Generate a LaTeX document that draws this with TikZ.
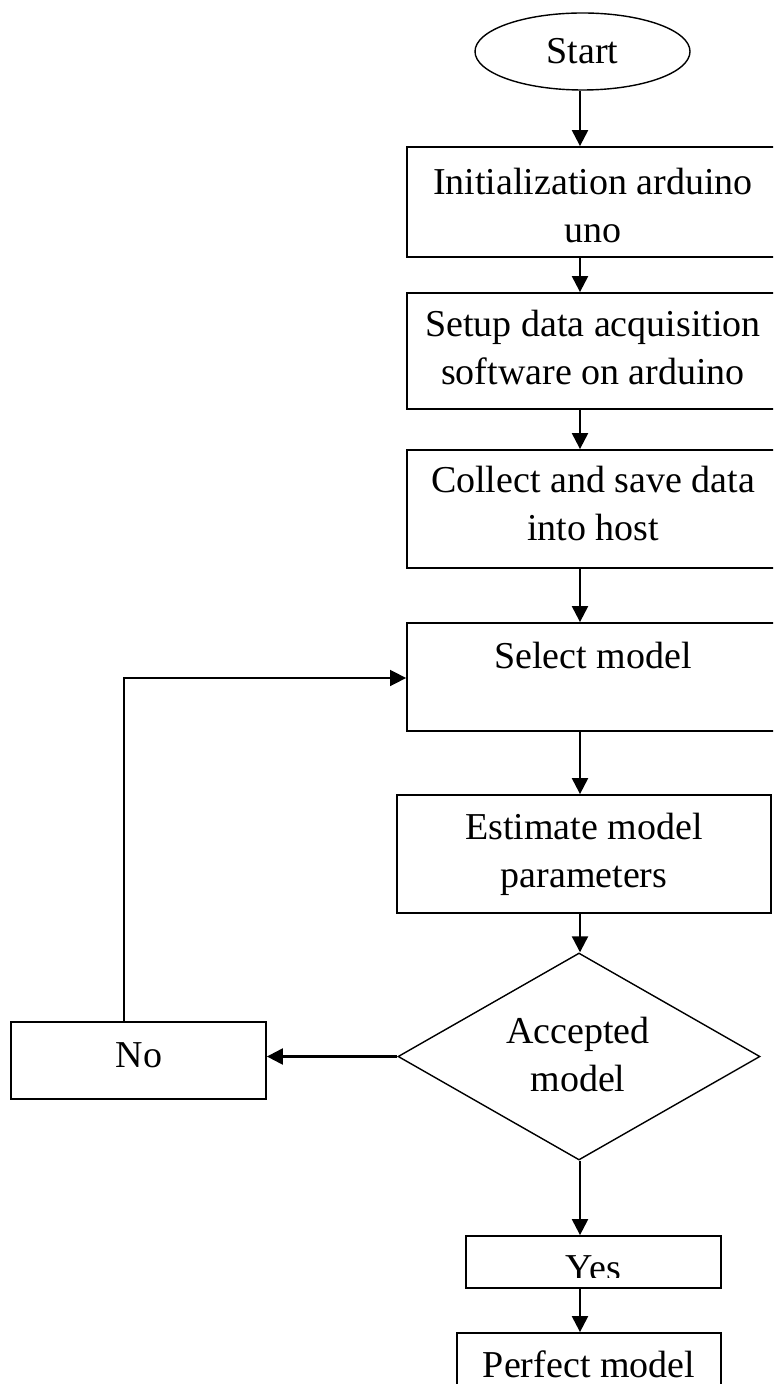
\documentclass[tikz,border=0pt]{standalone}
\usepackage{fontspec}
\setmainfont{Liberation Serif}
\usetikzlibrary{shapes.geometric,arrows.meta}
% one drawing unit = 0.5pt
\newcommand\upx{0.5pt}

\begin{document}
\begin{tikzpicture}[x=0.5pt,y=-0.5pt,
  box/.style={draw, rectangle, line width=0.9pt, inner sep=0pt},
  term/.style={draw, ellipse, line width=0.7pt, inner sep=0pt},
  decision/.style={draw, diamond, line width=0.7pt, inner sep=0pt},
  lbl/.style={anchor=base, inner sep=0pt, font=\fontsize{19}{24}\selectfont},
  arr/.style={-{Triangle[width=8pt,length=8pt]}, line width=1.1pt},
  back/.style={-{Triangle[width=8pt,length=8pt]}, line width=0.8pt}]
\clip (0,0) rectangle (773,1384);

% main column of steps
\node[term, minimum width=215*\upx, minimum height=77*\upx] (start) at (582.5,51.5) {};
\node[lbl] (tstart) at (582.5,64) {Start};

\node[box, minimum width=372*\upx, minimum height=110*\upx] (b1) at (593,202) {};
\node[lbl] (t1) at (593,195) {\begin{tabular}[t]{@{}c@{}}Initialization arduino\\uno\end{tabular}};

\node[box, minimum width=372*\upx, minimum height=116*\upx] (b2) at (593,351) {};
\node[lbl] (t2) at (593,337) {\begin{tabular}[t]{@{}c@{}}Setup data acquisition\\software on arduino\end{tabular}};

\node[box, minimum width=372*\upx, minimum height=118*\upx] (b3) at (593,509) {};
\node[lbl] (t3) at (593,493) {\begin{tabular}[t]{@{}c@{}}Collect and save data\\into host\end{tabular}};

\node[box, minimum width=372*\upx, minimum height=108*\upx] (b4) at (593,677) {};
\node[lbl] (t4) at (593,668) {Select model};

\node[box, minimum width=374*\upx, minimum height=118*\upx] (b5) at (584,854) {};
\node[lbl] (t5) at (584,839) {\begin{tabular}[t]{@{}c@{}}Estimate model\\parameters\end{tabular}};

\node[decision, minimum width=362*\upx, minimum height=207*\upx] (dia) at (579,1056.5) {};
\node[lbl] (tdia) at (578,1043) {\begin{tabular}[t]{@{}c@{}}Accepted\\model\end{tabular}};

\node[box, minimum width=255*\upx, minimum height=77*\upx] (no) at (138.5,1060.5) {};
\node[lbl] (tno) at (139,1067) {No};

\node[box, minimum width=255*\upx, minimum height=52*\upx] (yes) at (593.5,1262) {};
\begin{scope}
  \clip (466,1236) rectangle (721,1277);
  \node[lbl] (tyes) at (593.5,1280) {Yes};
\end{scope}

\node[box, minimum width=264*\upx, minimum height=77*\upx] (perf) at (589,1371.5) {};
\node[lbl] (tperf) at (589,1377) {Perfect model};

% connectors
\coordinate (spine) at (580,0);
\coordinate (lp) at (124,678);
\draw[arr] (start.south -| spine) -- (b1.north -| spine);
\draw[arr] (b1.south -| spine) -- (b2.north -| spine);
\draw[arr] (b2.south -| spine) -- (b3.north -| spine);
\draw[arr] (b3.south -| spine) -- (b4.north -| spine);
\draw[arr] (b4.south -| spine) -- (b5.north -| spine);
\draw[arr] (b5.south -| spine) -- (dia.north -| spine);
\draw[arr] (dia.west) -- (no.east |- dia.west);
\draw[back] (no.north -| lp) -- (lp) -- (lp -| b4.west);
\draw[arr] (dia.south -| spine) -- (yes.north -| spine);
\draw[arr] (yes.south -| spine) -- (perf.north -| spine);
\end{tikzpicture}
\end{document}
